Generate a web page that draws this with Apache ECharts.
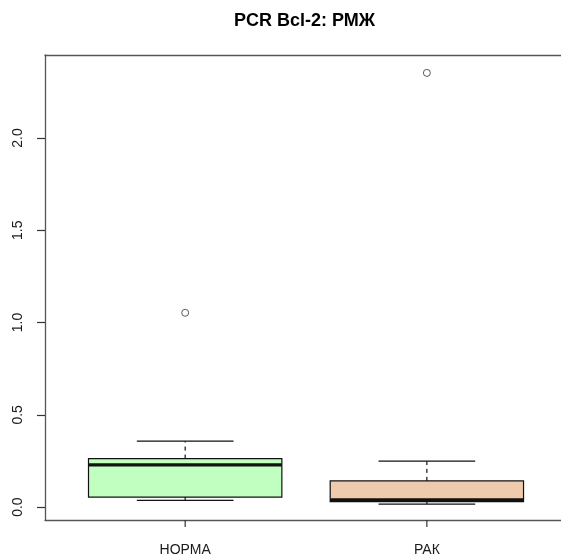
<!DOCTYPE html>
<html>
<head>
<meta charset="utf-8">
<script src="https://cdn.jsdelivr.net/npm/echarts@6/dist/echarts.min.js"></script>
<style>
  html, body { margin: 0; padding: 0; background: #fff; }
  #chart { width: 561px; height: 557px; }
</style>
</head>
<body>
<div id="chart"></div>
<script>
// Bcl-2 PCR expression, normal vs tumour tissue
const groups = ['НОРМА', 'РАК'];
const groupPos = [1, 2];
const whiskerLow = [0.036, 0.016];
const q1 = [0.054, 0.030];
const median = [0.229, 0.039];
const q3 = [0.263, 0.142];
const whiskerHigh = [0.357, 0.249];
const outlierGroup = [1, 2];
const outlierValue = [1.053, 2.353];
const fills = ['#C1FFC1', '#EECBAD'];
const yTicks = [0, 0.5, 1, 1.5, 2];

const boxData = groupPos.map((p, i) => [p, whiskerLow[i], q1[i], median[i], q3[i], whiskerHigh[i]]);
const outlierData = outlierGroup.map((g, i) => [g, outlierValue[i]]);

// x range of the plot region; the right edge of the frame runs past the canvas
const xMin = 0.42;
const xMax = 2.555;
const yMin = -0.07;
const yMax = 2.45;

function renderBox(params, api) {
  const i = params.dataIndex;
  const x = api.value(0);
  const lo = api.value(1), b1 = api.value(2), med = api.value(3), b3 = api.value(4), hi = api.value(5);
  const halfBox = 0.4, halfStaple = 0.2;
  const c = (xx, yy) => api.coord([xx, yy]);
  const line = (a, b, extra) => ({
    type: 'line',
    shape: { x1: a[0], y1: a[1], x2: b[0], y2: b[1] },
    style: Object.assign({ stroke: '#111', lineWidth: 1.2 }, extra || {})
  });
  const tl = c(x - halfBox, b3);
  const br = c(x + halfBox, b1);
  return {
    type: 'group',
    children: [
      line(c(x, b3), c(x, hi), { lineDash: [4, 4] }),
      line(c(x, lo), c(x, b1), { lineDash: [4, 4] }),
      line(c(x - halfStaple, hi), c(x + halfStaple, hi)),
      line(c(x - halfStaple, lo), c(x + halfStaple, lo)),
      {
        type: 'rect',
        shape: { x: tl[0], y: tl[1], width: br[0] - tl[0], height: br[1] - tl[1] },
        style: { fill: fills[i], stroke: '#111', lineWidth: 1.2 }
      },
      line(c(x - halfBox, med), c(x + halfBox, med), { lineWidth: 3.2 })
    ]
  };
}

// group tick marks hanging below the bottom frame line
function renderGroupTick(params, api) {
  const p = api.coord([api.value(0), yMin]);
  return {
    type: 'line',
    shape: { x1: p[0], y1: p[1], x2: p[0], y2: p[1] + 7 },
    style: { stroke: '#333', lineWidth: 1.2 }
  };
}

const frameLine = { show: true, onZero: false, lineStyle: { color: '#555', width: 1.3 } };
const labelFont = { fontFamily: 'Liberation Sans, Arial, sans-serif', fontSize: 14, color: '#1a1a1a' };

const chart = echarts.init(document.getElementById('chart'), null, { renderer: 'canvas' });
chart.setOption({
  animation: false,
  backgroundColor: '#fff',
  title: {
    text: 'PCR Bcl-2: РМЖ',
    left: 229,
    top: 7,
    textStyle: { fontFamily: 'Liberation Sans, Arial, sans-serif', fontSize: 18, fontWeight: 'bold', color: '#000' }
  },
  grid: { left: 45, top: 55, bottom: 36, right: 0 },
  xAxis: [
    {
      type: 'value',
      position: 'bottom',
      min: xMin, max: xMax,
      axisLine: frameLine,
      splitLine: { show: false },
      axisTick: { show: false },
      axisLabel: Object.assign({
        customValues: groupPos,
        margin: 23,
        formatter: v => groups[groupPos.indexOf(v)] || ''
      }, labelFont)
    },
    {
      type: 'value',
      position: 'top',
      min: xMin, max: xMax,
      axisLine: frameLine,
      splitLine: { show: false },
      axisTick: { show: false },
      axisLabel: { show: false }
    }
  ],
  yAxis: {
    type: 'value',
    min: yMin, max: yMax,
    axisLine: frameLine,
    splitLine: { show: false },
    axisTick: { show: true, customValues: yTicks, length: 8, lineStyle: { color: '#333', width: 1.2 } },
    axisLabel: Object.assign({
      customValues: yTicks,
      rotate: 90,
      margin: 20,
      formatter: v => v.toFixed(1)
    }, labelFont)
  },
  series: [
    {
      type: 'custom',
      renderItem: renderGroupTick,
      data: groupPos.map(p => [p]),
      encode: { x: 0 },
      clip: false,
      silent: true,
      z: 1
    },
    {
      type: 'custom',
      renderItem: renderBox,
      data: boxData,
      encode: { x: 0, y: [1, 2, 3, 4, 5] },
      z: 2
    },
    {
      type: 'scatter',
      data: outlierData,
      symbol: 'circle',
      symbolSize: 7,
      itemStyle: { color: '#fff', borderColor: '#333', borderWidth: 1 },
      z: 3
    }
  ]
});
</script>
</body>
</html>
